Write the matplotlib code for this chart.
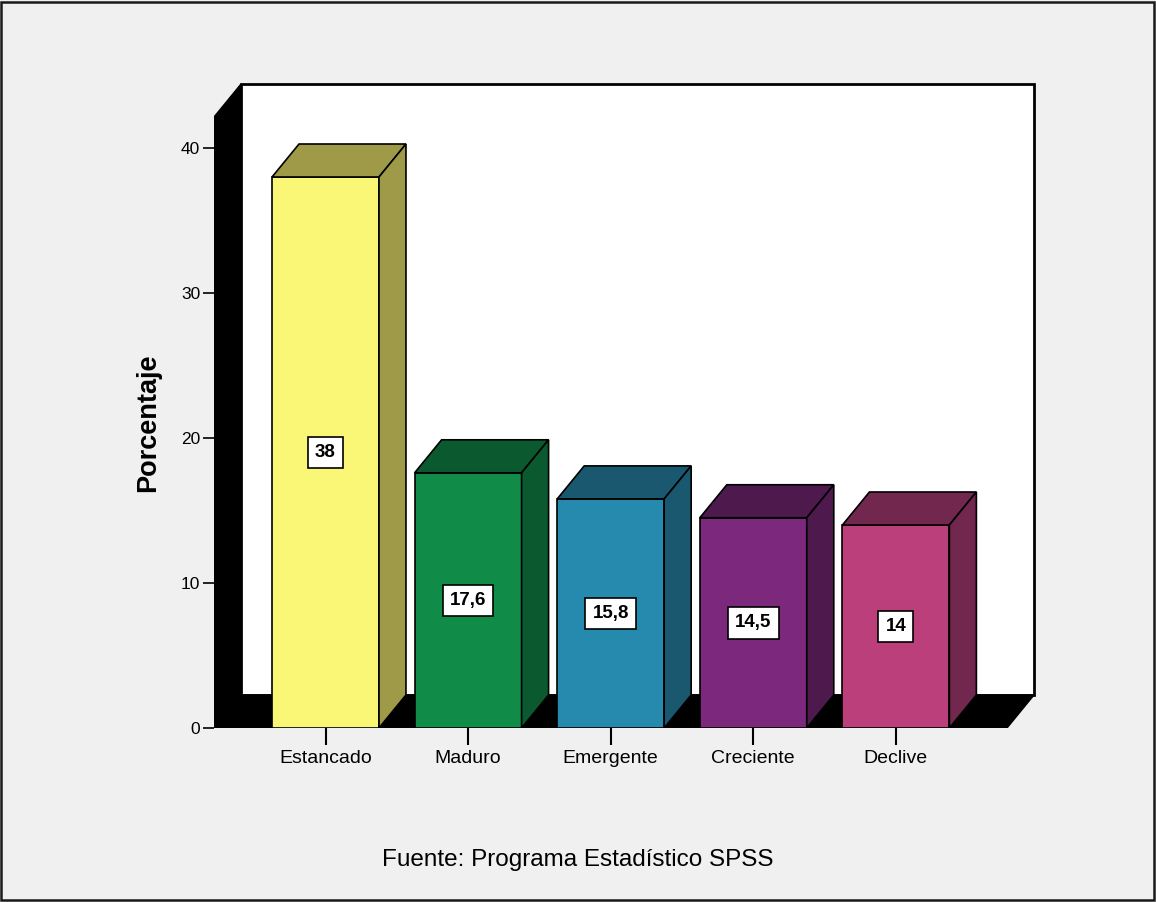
import numpy as np
import matplotlib.pyplot as plt
from matplotlib.patches import Polygon, Rectangle

plt.rcParams['font.family'] = ['Liberation Sans', 'DejaVu Sans']

# ---------- DATA ----------
categories = ['Estancado', 'Maduro', 'Emergente', 'Creciente', 'Declive']
values = [38, 17.6, 15.8, 14.5, 14]
value_labels = ['38', '17,6', '15,8', '14,5', '14']
front_colors = ['#fbf776', '#108c48', '#258aad', '#7b287d', '#ba3f7b']
side_colors = ['#9e9a48', '#0b5a2f', '#1a5870', '#4e1a4e', '#72284e']
yticks = [0, 10, 20, 30, 40]

# ---------- FIGURE ----------
W, H = 1156, 902
fig = plt.figure(figsize=(W / 100, H / 100), dpi=100, facecolor='#f0f0f0')
fig.patches.append(Rectangle((0.001, 0.002), 0.997, 0.996, transform=fig.transFigure,
                             fill=False, edgecolor='#1a1a1a', lw=1.8))

# axes box in pixels: x 214..1034, y 84..728
ax = fig.add_axes([214 / W, (H - 728) / H, (1034 - 214) / W, (728 - 84) / H])
ax.set_facecolor('none')

x = np.arange(len(categories))
px_x = 142.6          # pixels per category
px_y = 14.5           # pixels per percent
xl, xr = (214 - 325.5) / px_x, (1034 - 325.5) / px_x
ytop = (728 - 84) / px_y
ax.set_xlim(xl, xr)
ax.set_ylim(0, ytop)

dx = 27 / px_x        # 3D depth offset
dy = 33 / px_y
w = 0.75

# walls and floor
ax.add_patch(Polygon([(xl, 0), (xl + dx, dy), (xl + dx, ytop), (xl, ytop - dy)],
                     closed=True, facecolor='black', edgecolor='black', lw=1, zorder=1))
ax.add_patch(Polygon([(xl, 0), (xl + dx, dy), (xr, dy), (xr - dx, 0)],
                     closed=True, facecolor='black', edgecolor='black', lw=1, zorder=1))
ax.add_patch(Rectangle((xl + dx, dy), xr - xl - dx, ytop - dy, facecolor='white',
                       edgecolor='black', lw=2, zorder=0.5, clip_on=False))

# bars
ax.bar(x, values, width=w, color=front_colors, edgecolor='black', lw=1.2, zorder=3)
for xi, v, sc in zip(x, values, side_colors):
    l, r = xi - w / 2, xi + w / 2
    ax.add_patch(Polygon([(l, v), (l + dx, v + dy), (r + dx, v + dy), (r, v)],
                         closed=True, facecolor=sc, edgecolor='black', lw=1.2, zorder=3))
    ax.add_patch(Polygon([(r, 0), (r + dx, dy), (r + dx, v + dy), (r, v)],
                         closed=True, facecolor=sc, edgecolor='black', lw=1.2, zorder=3))

for xi, v, lab in zip(x, values, value_labels):
    ax.text(xi, v / 2, lab, ha='center', va='center', fontsize=13.5, fontweight='bold',
            zorder=5, bbox=dict(boxstyle='square,pad=0.38', facecolor='white',
                                edgecolor='black', lw=1.2))

# axes styling
for s in ['top', 'right', 'bottom', 'left']:
    ax.spines[s].set_visible(False)
ax.set_yticks(yticks)
ax.set_xticks(x)
ax.set_xticklabels(categories)
ax.tick_params(axis='y', length=8, width=1.2, labelsize=12.5, pad=2)
ax.tick_params(axis='x', length=12, width=1.5, labelsize=14, pad=4)

fig.text(148 / W, 1 - 423 / H, 'Porcentaje', rotation=90, ha='center', va='center',
         fontsize=19.5, fontweight='bold')
fig.text(578 / W, 1 - 860 / H, 'Fuente: Programa Estadístico SPSS', ha='center',
         va='center', fontsize=17.5)

fig.savefig('out.png', dpi=100, facecolor=fig.get_facecolor())
